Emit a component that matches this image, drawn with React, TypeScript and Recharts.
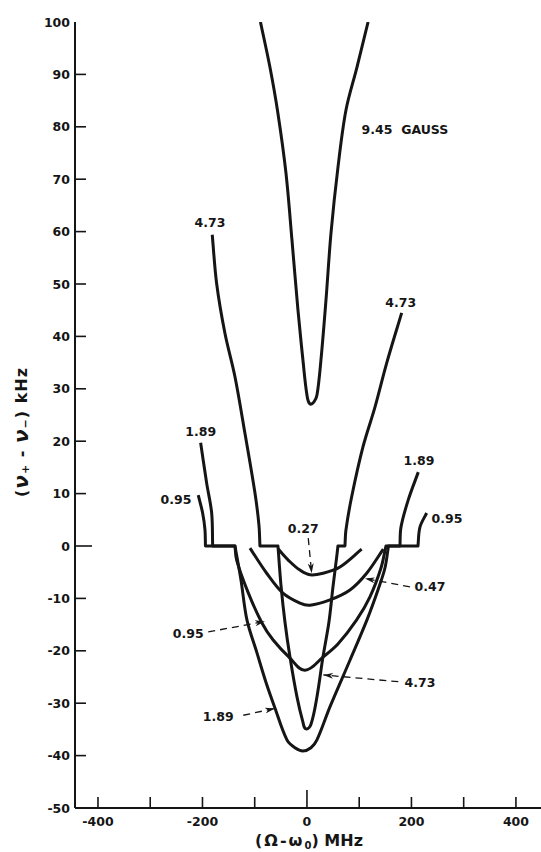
import { LineChart, Line, XAxis, YAxis, ReferenceDot, ReferenceLine } from "recharts";

const INK = "#151515";
const FONT = "'DejaVu Sans', 'Liberation Sans', sans-serif";

const xTicks = [-400, -300, -200, -100, 0, 100, 200, 300, 400];
const xTickLabels = [-400, -200, 0, 200, 400];
const yTicks = [-50, -40, -30, -20, -10, 0, 10, 20, 30, 40, 50, 60, 70, 80, 90, 100];

// splitting curves, (Omega - omega0) in MHz vs (nu+ - nu-) in kHz
const field945 = [
    { x: -89, y: 100 }, { x: -70.9, y: 91.4 }, { x: -55.6, y: 82.6 }, { x: -40.2, y: 71.2 },
    { x: -28.7, y: 58.4 }, { x: -17.2, y: 45.0 }, { x: -7.7, y: 35.5 }, { x: 0, y: 28.8 },
    { x: 5.7, y: 27.1 }, { x: 13.4, y: 27.5 }, { x: 19.2, y: 28.8 }, { x: 26.8, y: 35.5 },
    { x: 36.4, y: 46.9 }, { x: 46.0, y: 59.7 }, { x: 59.4, y: 72.3 }, { x: 74.7, y: 83.2 },
    { x: 95.8, y: 91.4 }, { x: 117, y: 100 },
];

const field473 = [
    { x: -181.3, y: 59.4 }, { x: -172.9, y: 50.1 }, { x: -157.0, y: 40.6 }, { x: -137.8, y: 32.3 },
    { x: -118.7, y: 21.5 }, { x: -99.5, y: 10.1 }, { x: -91.9, y: 4.0 }, { x: -90.0, y: 0 },
    { x: -55.5, y: 0 }, { x: -49.8, y: -7.4 }, { x: -42.1, y: -14.5 }, { x: -32.5, y: -21.2 },
    { x: -19.1, y: -28.8 }, { x: -7.7, y: -33.6 }, { x: -1.9, y: -34.9 }, { x: 7.7, y: -34.0 },
    { x: 19.1, y: -28.8 }, { x: 30.6, y: -21.2 }, { x: 42.1, y: -14.5 }, { x: 49.8, y: -7.8 },
    { x: 57.4, y: -1.7 }, { x: 59.3, y: 0 }, { x: 72.7, y: 0 }, { x: 74.7, y: 3.1 },
    { x: 85.6, y: 9.4 }, { x: 107.2, y: 18.9 }, { x: 130.2, y: 26.5 }, { x: 152.6, y: 34.9 },
    { x: 181.3, y: 44.5 },
];

const field189 = [
    { x: -203.5, y: 19.7 }, { x: -192.0, y: 12.0 }, { x: -182.4, y: 6.3 }, { x: -180.5, y: 0 },
    { x: -137.8, y: 0 }, { x: -126.3, y: -6.5 }, { x: -114.9, y: -14.1 }, { x: -95.7, y: -20.4 },
    { x: -78.5, y: -26.0 }, { x: -61.3, y: -30.9 }, { x: -38.3, y: -37.0 }, { x: -23.0, y: -38.5 },
    { x: -7.7, y: -39.1 }, { x: 7.7, y: -38.5 }, { x: 19.1, y: -37.0 }, { x: 44.0, y: -30.7 },
    { x: 82.3, y: -21.8 }, { x: 114.9, y: -14.1 }, { x: 135.9, y: -8.4 }, { x: 149.3, y: -4.2 },
    { x: 156, y: 0 }, { x: 178.0, y: 0 }, { x: 180.0, y: 3.6 }, { x: 193.9, y: 8.8 },
    { x: 213.1, y: 14.1 },
];

const field095 = [
    { x: -208.1, y: 9.7 }, { x: -199.7, y: 6.3 }, { x: -195.2, y: 3.1 }, { x: -194.3, y: 0 },
    { x: -137.8, y: 0 }, { x: -134.6, y: -2.7 }, { x: -112.9, y: -8.8 }, { x: -86.1, y: -14.7 },
    { x: -65.1, y: -17.9 }, { x: -32.5, y: -21.4 }, { x: -3.8, y: -23.7 }, { x: 30.6, y: -21.2 },
    { x: 59.3, y: -18.7 }, { x: 95.1, y: -14.1 }, { x: 120.6, y: -9.7 }, { x: 141.7, y: -4.2 },
    { x: 151.2, y: 0 }, { x: 212.5, y: 0 }, { x: 216.3, y: 3.6 }, { x: 229.1, y: 6.3 },
];

const field047 = [
    { x: -109.1, y: -0.4 }, { x: -77.1, y: -5.2 }, { x: -45.9, y: -9.0 }, { x: -13.4, y: -10.9 },
    { x: 5.7, y: -11.3 }, { x: 44.0, y: -10.3 }, { x: 82.3, y: -8.4 }, { x: 114.3, y: -5.2 },
    { x: 146.1, y: -0.6 },
];

const field027 = [
    { x: -54.9, y: -0.6 }, { x: -32.5, y: -3.0 }, { x: -13.4, y: -4.6 }, { x: 5.7, y: -5.5 },
    { x: 30.6, y: -5.2 }, { x: 63.2, y: -4.0 }, { x: 104.7, y: -0.6 },
];

const curves = [field945, field473, field189, field095, field047, field027];

// curve captions, anchored in data units
const captions = [
    { text: "9.45\u00a0 GAUSS", x: 187.6, y: 79.4 },
    { text: "4.73", x: -185.7, y: 61.7 },
    { text: "4.73", x: 179.6, y: 46.4 },
    { text: "1.89", x: -203.3, y: 21.8 },
    { text: "1.89", x: 214.4, y: 16.4 },
    { text: "0.95", x: -250.8, y: 8.8 },
    { text: "0.95", x: 268, y: 5.2 },
    { text: "0.27", x: -7.1, y: 3.4 },
    { text: "0.47", x: 235.4, y: -7.8 },
    { text: "0.95", x: -227.2, y: -16.7 },
    { text: "4.73", x: 216.3, y: -26.1 },
    { text: "1.89", x: -169.8, y: -32.6 },
];

const leaders = [
    { from: { x: 2.5, y: 1.5 }, to: { x: 9.0, y: -5.2 } },
    { from: { x: 197.2, y: -7.8 }, to: { x: 111.0, y: -6.2 } },
    { from: { x: -188.9, y: -16.4 }, to: { x: -80.4, y: -14.4 } },
    { from: { x: 174.8, y: -25.9 }, to: { x: 31.2, y: -24.6 } },
    { from: { x: -121.9, y: -32.3 }, to: { x: -61.3, y: -31.0 } },
];

const textStyle = { fill: INK, fontSize: 12.5, fontWeight: 700, fontFamily: FONT };

// smooth pen-like curve; keeps sharp corners where a flat step meets the curve
const penCurve = (context: any) => {
    let pts: number[][] = [];
    const unit = (dx: number, dy: number) => {
        const l = Math.hypot(dx, dy) || 1;
        return [dx / l, dy / l];
    };
    const flat = (a: number[], b: number[]) => Math.abs(a[1] - b[1]) < 0.5;
    return {
        areaStart() {},
        areaEnd() {},
        lineStart() {
            pts = [];
        },
        point(x: number, y: number) {
            pts.push([+x, +y]);
        },
        lineEnd() {
            const n = pts.length;
            if (!n) return;
            context.moveTo(pts[0][0], pts[0][1]);
            const tin: number[][] = [];
            const tout: number[][] = [];
            for (let i = 0; i < n; i++) {
                const p = pts[i - 1];
                const c = pts[i];
                const q = pts[i + 1];
                if (!p && !q) {
                    tin[i] = tout[i] = [0, 0];
                } else if (!p) {
                    tin[i] = tout[i] = unit(q[0] - c[0], q[1] - c[1]);
                } else if (!q) {
                    tin[i] = tout[i] = unit(c[0] - p[0], c[1] - p[1]);
                } else if (flat(p, c) || flat(c, q)) {
                    tin[i] = unit(c[0] - p[0], c[1] - p[1]);
                    tout[i] = unit(q[0] - c[0], q[1] - c[1]);
                } else {
                    tin[i] = tout[i] = unit(q[0] - p[0], q[1] - p[1]);
                }
            }
            for (let i = 0; i < n - 1; i++) {
                const a = pts[i];
                const b = pts[i + 1];
                const d = Math.hypot(b[0] - a[0], b[1] - a[1]) / 3;
                context.bezierCurveTo(
                    a[0] + tout[i][0] * d, a[1] + tout[i][1] * d,
                    b[0] - tin[i + 1][0] * d, b[1] - tin[i + 1][1] * d,
                    b[0], b[1]
                );
            }
        },
    };
};

const BottomTick = (props: any) => {
    const { x, y, payload } = props;
    const v = payload.value;
    const len = v === 0 ? 18 : 11;
    return (
        <g>
            <line x1={x} x2={x} y1={y} y2={y - len} stroke={INK} strokeWidth={1.6} />
            {xTickLabels.includes(v) && (
                <text x={x} y={y + 13} textAnchor="middle" dominantBaseline="central" {...textStyle}>
                    {v}
                </text>
            )}
        </g>
    );
};

const TopTick = (props: any) => {
    const { x, y } = props;
    return <line x1={x} x2={x} y1={y} y2={y + 11} stroke={INK} strokeWidth={1.6} />;
};

const LeftTick = (props: any) => {
    const { x, y, payload } = props;
    const v = payload.value;
    const len = v === 0 ? 17 : 11;
    return (
        <g>
            {v !== 100 && v !== -50 && (
                <line x1={x} x2={x + len} y1={y} y2={y} stroke={INK} strokeWidth={1.6} />
            )}
            <text x={x - 5} y={y} textAnchor="end" dominantBaseline="central" {...textStyle}>
                {v}
            </text>
        </g>
    );
};

const RightTick = (props: any) => {
    const { x, y, payload } = props;
    const v = payload.value;
    if (v === 100 || v === -50) return <g />;
    const len = v === 0 ? 13 : 7;
    return <line x1={x - len} x2={x} y1={y} y2={y} stroke={INK} strokeWidth={1.6} />;
};

const XTitle = (props: any) => {
    const vb = props.viewBox || { x: 75, y: 808, width: 466, height: 44 };
    return (
        <text x={vb.x + vb.width / 2 + 1} y={vb.y + 38} textAnchor="middle" fill={INK} fontSize={16} fontWeight={700} fontFamily={FONT}>
            <tspan letterSpacing={2}>(Ω-ω</tspan>
            <tspan fontSize={10} dy={3}>0</tspan>
            <tspan dy={-3}>)  MHz</tspan>
        </text>
    );
};

const YTitle = (props: any) => {
    const vb = props.viewBox || { x: 0, y: 22, width: 75, height: 786 };
    const cx = 21;
    const cy = vb.y + vb.height / 2 + 17;
    return (
        <text x={cx} y={cy} transform={`rotate(-90, ${cx}, ${cy})`} textAnchor="middle" dominantBaseline="central" fill={INK} fontSize={16} fontWeight={700} fontFamily={FONT} letterSpacing={1}>
            <tspan>(</tspan>
            <tspan fontStyle="italic" fontSize={20}>ν</tspan>
            <tspan fontSize={11} dy={4}>+</tspan>
            <tspan dy={-4}> - </tspan>
            <tspan fontStyle="italic" fontSize={20}>ν</tspan>
            <tspan fontSize={11} dy={4}>−</tspan>
            <tspan dy={-4}>)  kHz</tspan>
        </text>
    );
};

export default function App() {
    return (
        <div style={{ position: "absolute", left: 0, top: 0, width: 541, height: 852, background: "#fff" }}>
            <LineChart width={541} height={852} margin={{ top: 22, right: 0, bottom: 0, left: 0 }}>
                <defs>
                    <marker id="tip" viewBox="0 0 10 6" refX="10" refY="3" markerWidth="10" markerHeight="6" markerUnits="userSpaceOnUse" orient="auto">
                        <path d="M0,0 L10,3 L0,6 L3,3 Z" fill={INK} />
                    </marker>
                </defs>
                <XAxis
                    xAxisId="b"
                    type="number"
                    dataKey="x"
                    domain={[-444, 448]}
                    ticks={xTicks}
                    interval={0}
                    height={44}
                    tickSize={0}
                    tickMargin={0}
                    tickLine={false}
                    tick={BottomTick}
                    axisLine={{ stroke: INK, strokeWidth: 2 }}
                    allowDataOverflow
                    label={XTitle}
                />
                <XAxis
                    xAxisId="t"
                    orientation="top"
                    type="number"
                    dataKey="x"
                    domain={[-444, 448]}
                    ticks={xTicks}
                    interval={0}
                    height={0}
                    tickSize={0}
                    tickMargin={0}
                    tickLine={false}
                    tick={TopTick}
                    axisLine={{ stroke: INK, strokeWidth: 1.6 }}
                    allowDataOverflow
                />
                <YAxis
                    yAxisId="l"
                    type="number"
                    domain={[-50, 100]}
                    ticks={yTicks}
                    interval={0}
                    width={75}
                    tickSize={0}
                    tickMargin={0}
                    tickLine={false}
                    tick={LeftTick}
                    axisLine={{ stroke: INK, strokeWidth: 2 }}
                    allowDataOverflow
                    label={YTitle}
                />
                <YAxis
                    yAxisId="r"
                    orientation="right"
                    type="number"
                    domain={[-50, 100]}
                    ticks={yTicks}
                    interval={0}
                    width={0}
                    tickSize={0}
                    tickMargin={0}
                    tickLine={false}
                    tick={RightTick}
                    axisLine={false}
                    allowDataOverflow
                />
                {curves.map((c, i) => (
                    <Line
                        key={i}
                        xAxisId="b"
                        yAxisId="l"
                        data={c}
                        dataKey="y"
                        type={penCurve as any}
                        stroke={INK}
                        strokeWidth={3}
                        strokeLinejoin="round"
                        dot={false}
                        activeDot={false}
                        isAnimationActive={false}
                    />
                ))}
                {leaders.map((l, i) => (
                    <ReferenceLine
                        key={"l" + i}
                        xAxisId="b"
                        yAxisId="l"
                        segment={[l.from, l.to]}
                        stroke={INK}
                        strokeWidth={1.3}
                        strokeDasharray="7 5"
                        markerEnd="url(#tip)"
                        ifOverflow="visible"
                    />
                ))}
                {captions.map((c, i) => (
                    <ReferenceDot
                        key={"c" + i}
                        xAxisId="b"
                        yAxisId="l"
                        x={c.x}
                        y={c.y}
                        r={0}
                        fill="none"
                        stroke="none"
                        ifOverflow="visible"
                        label={{ value: c.text, position: "center", ...textStyle }}
                    />
                ))}
            </LineChart>
        </div>
    );
}
